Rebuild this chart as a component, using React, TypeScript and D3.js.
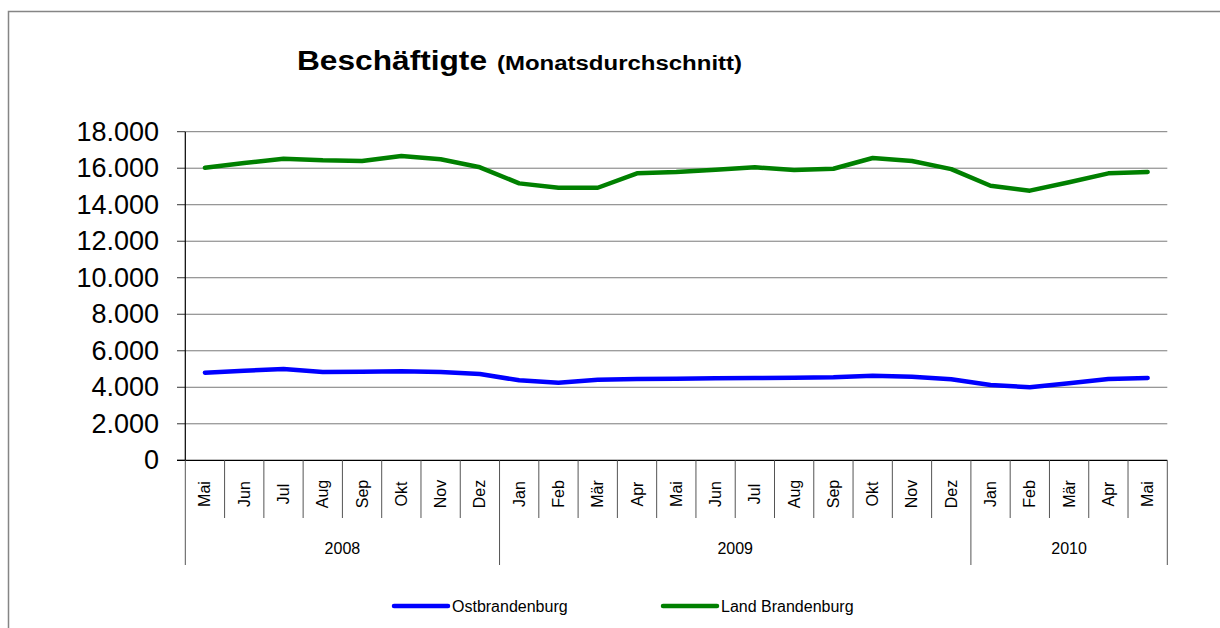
import React from "react";
import * as d3 from "d3";

const months = ["Mai","Jun","Jul","Aug","Sep","Okt","Nov","Dez","Jan","Feb","Mär","Apr","Mai","Jun","Jul","Aug","Sep","Okt","Nov","Dez","Jan","Feb","Mär","Apr","Mai"];
const yearLabels = ["2008", "2009", "2010"];
const yearSpans = [8, 12, 5];
const ostbrandenburg = [4800,4910,5000,4840,4855,4875,4840,4730,4380,4250,4415,4450,4470,4490,4510,4525,4545,4635,4580,4440,4125,4000,4220,4450,4510];
const landBrandenburg = [16030,16285,16520,16430,16395,16670,16490,16050,15170,14930,14930,15720,15790,15920,16050,15900,15970,16560,16395,15950,15040,14770,15230,15720,15790];
const yTicks = [0,2000,4000,6000,8000,10000,12000,14000,16000,18000];
const seriesNames = ["Ostbrandenburg", "Land Brandenburg"];
const seriesColors = ["#0000FF", "#008000"];

const W = 1220, H = 628;
const left = 185.3, right = 1167.3, top = 131.7, bottom = 460.3;
const font = "'Liberation Sans', Arial, Helvetica, sans-serif";

export default function App() {
  const idx = months.map((_, i) => i);
  const x = d3.scaleBand<number>().domain(idx).range([left, right]).padding(0);
  const y = d3.scaleLinear().domain([0, 18000]).range([bottom, top]);
  const cx = (i: number) => (x(i) as number) + x.bandwidth() / 2;
  const line = d3.line<number>().x((_, i) => cx(i)).y((d) => y(d));
  const fmt = (v: number) => d3.format(",")(v).replace(/,/g, ".");

  const boundaries: number[] = [0];
  yearSpans.forEach((s, i) => boundaries.push(boundaries[i] + s));

  return (
    <svg width={W} height={H} style={{ position: "absolute", left: 0, top: 0, background: "#fff" }} fontFamily={font}>
      <rect x={8.5} y={11.5} width={1230} height={640} fill="#fff" stroke="#858585" strokeWidth={1.5} />
      <text x={297} y={70} fontSize={28} fontWeight="bold" textLength={190} lengthAdjust="spacingAndGlyphs">Beschäftigte</text>
      <text x={497} y={70} fontSize={20} fontWeight="bold" textLength={245} lengthAdjust="spacingAndGlyphs">(Monatsdurchschnitt)</text>

      {yTicks.filter((t) => t > 0).map((t) => (
        <line key={"g" + t} x1={left} x2={right} y1={y(t)} y2={y(t)} stroke="#7a7a7a" strokeWidth={1} />
      ))}
      {yTicks.map((t) => (
        <g key={"y" + t}>
          <line x1={177} x2={left} y1={y(t)} y2={y(t)} stroke="#333" strokeWidth={1} />
          <text x={159} y={y(t)} fontSize={27} textAnchor="end" dominantBaseline="central" fill="#000">{fmt(t)}</text>
        </g>
      ))}
      <line x1={left} x2={left} y1={top} y2={bottom} stroke="#000" strokeWidth={1.2} />
      <line x1={177} x2={right} y1={bottom} y2={bottom} stroke="#000" strokeWidth={1.2} />

      {idx.concat([months.length]).map((i) => {
        const xx = i < months.length ? (x(i) as number) : right;
        const isYear = boundaries.includes(i);
        return (
          <line key={"t" + i} x1={xx} x2={xx} y1={bottom} y2={isYear ? 565 : 518} stroke="#555" strokeWidth={1} />
        );
      })}
      {months.map((m, i) => (
        <text key={"m" + i} transform={`translate(${cx(i)},494) rotate(-90)`} fontSize={16} textAnchor="middle" dominantBaseline="central" fill="#000">{m}</text>
      ))}
      {yearLabels.map((yl, k) => {
        const x0 = x(boundaries[k]) as number;
        const x1 = boundaries[k + 1] < months.length ? (x(boundaries[k + 1]) as number) : right;
        return (
          <text key={"yl" + k} x={(x0 + x1) / 2} y={554} fontSize={16} textAnchor="middle" fill="#000">{yl}</text>
        );
      })}

      {[ostbrandenburg, landBrandenburg].map((s, k) => (
        <path key={"s" + k} d={line(s) as string} fill="none" stroke={seriesColors[k]} strokeWidth={4.5} strokeLinejoin="round" strokeLinecap="round" />
      ))}

      {seriesNames.map((n, k) => {
        const lx = k === 0 ? 394 : 663;
        return (
          <g key={"l" + k}>
            <line x1={lx} x2={lx + 54} y1={606} y2={606} stroke={seriesColors[k]} strokeWidth={4.5} strokeLinecap="round" />
            <text x={lx + 58} y={611.5} fontSize={16} fill="#000">{n}</text>
          </g>
        );
      })}
    </svg>
  );
}
